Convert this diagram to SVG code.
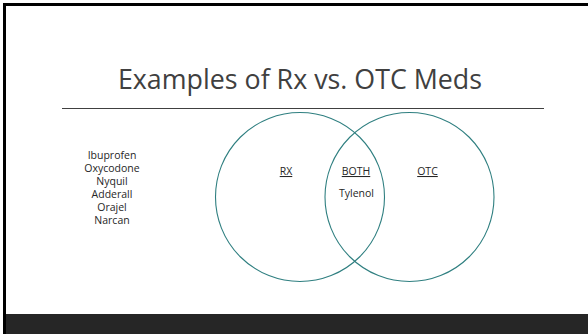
<svg xmlns="http://www.w3.org/2000/svg" width="588" height="334" viewBox="0 0 588 334">
<style>
  .lbl { font-family: "Open Sans", "Noto Sans", sans-serif; font-size: 10.5px; fill: #262626; text-anchor: middle; }
  .u { text-decoration: underline; }
  .circ { fill: none; stroke: #2f7f80; stroke-width: 1.1; }
</style>
<rect x="0" y="0" width="588" height="334" fill="#ffffff"/>
<rect x="3" y="3" width="585" height="3" fill="#000000"/>
<rect x="3" y="3" width="3" height="331" fill="#000000"/>
<rect x="6" y="314" width="582" height="20" fill="#262626"/>
<g id="title">
  <text x="300" y="89" font-family="'Open Sans', 'Noto Sans', sans-serif" font-size="26.8" fill="#404040" text-anchor="middle">Examples of Rx vs. OTC Meds</text>
  <line x1="62" y1="108.5" x2="544" y2="108.5" stroke="#404040" stroke-width="1"/>
</g>
<g id="list">
  <text class="lbl" x="112" y="159">Ibuprofen</text>
  <text class="lbl" x="112" y="172">Oxycodone</text>
  <text class="lbl" x="112" y="185">Nyquil</text>
  <text class="lbl" x="112" y="198">Adderall</text>
  <text class="lbl" x="112" y="211">Orajel</text>
  <text class="lbl" x="112" y="224">Narcan</text>
</g>
<g id="rx-circle">
  <circle class="circ" cx="300" cy="197" r="84.5"/>
  <text class="lbl u" x="286" y="175">RX</text>
</g>
<g id="otc-circle">
  <circle class="circ" cx="409.5" cy="197" r="84.5"/>
  <text class="lbl u" x="427.5" y="175">OTC</text>
</g>
<g id="both">
  <text class="lbl u" x="356" y="175">BOTH</text>
  <text class="lbl" x="356.5" y="197">Tylenol</text>
</g>
</svg>
